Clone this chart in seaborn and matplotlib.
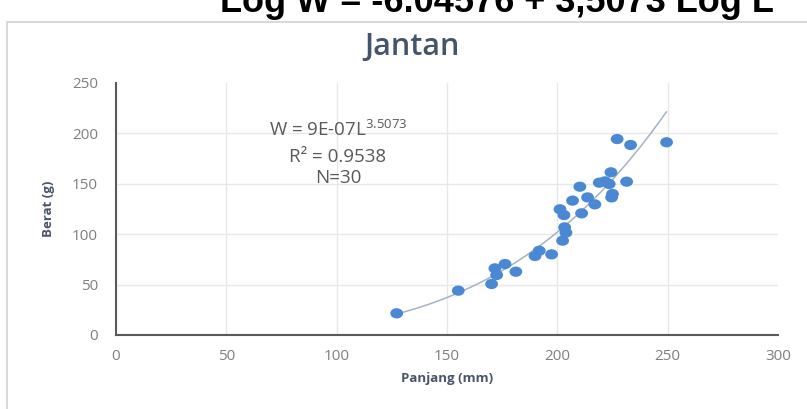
import numpy as np
import pandas as pd
import matplotlib
matplotlib.use("Agg")
import matplotlib.pyplot as plt
from matplotlib.path import Path
from matplotlib.transforms import Affine2D
from matplotlib.lines import Line2D
import seaborn as sns

# Length (mm) and weight (g) of the male specimens
panjang = [127.2, 155.1, 170.2, 171.7, 172.5, 176.3, 181.2, 189.9, 191.8, 197.4,
           202.4, 203.9, 203.3, 201.2, 203.0, 211.0, 206.9, 210.2, 213.7, 217.0,
           219.0, 221.6, 223.5, 224.3, 225.0, 224.6, 231.4, 227.1, 233.2, 249.5]
berat = [21.5, 44.0, 50.6, 66.1, 59.5, 70.4, 62.8, 78.4, 83.6, 80.0,
         93.6, 101.5, 106.8, 124.7, 119.0, 120.7, 133.3, 147.1, 136.5, 129.6,
         151.1, 152.4, 149.8, 161.4, 139.9, 136.5, 152.1, 194.4, 188.5, 191.2]

# Power trendline W = a * L^b
coef_label = "9E-07"
exponent = 3.5073
r_squared = "0.9538"
n_label = "N=30"
log_eq = "Log W = -6.04576 + 3,5073 Log L"

x_ticks = [0, 50, 100, 150, 200, 250, 300]
y_ticks = [0, 50, 100, 150, 200, 250]

sns.set_theme(style="white")
plt.rcParams["font.family"] = ["Open Sans", "DejaVu Sans"]
plt.rcParams["mathtext.fontset"] = "custom"
plt.rcParams["mathtext.rm"] = "Open Sans"
plt.rcParams["mathtext.it"] = "Open Sans:italic"
plt.rcParams["mathtext.bf"] = "Open Sans:bold"

df = pd.DataFrame({"Panjang (mm)": panjang, "Berat (g)": berat})

W_fig, H_fig = 807, 409
fig = plt.figure(figsize=(W_fig / 100, H_fig / 100), dpi=100)
fig.patch.set_facecolor("white")
ax = fig.add_axes([116 / W_fig, 74 / H_fig, 662 / W_fig, 252 / H_fig])

# trendline: exponent from the equation, coefficient fitted in log space
L = np.asarray(panjang)
Wt = np.asarray(berat)
a = np.exp(np.mean(np.log(Wt) - exponent * np.log(L)))
xs = np.linspace(L.min(), L.max(), 300)
sns.lineplot(x=xs, y=a * xs ** exponent, ax=ax, color="#a3b2c6", lw=1.1,
             zorder=2, legend=False)

# slightly wide oval markers
oval = Path.unit_circle().transformed(Affine2D().scale(1.0, 0.8))
sns.scatterplot(data=df, x="Panjang (mm)", y="Berat (g)", ax=ax, marker=oval,
                s=85, color="#4a88d4", edgecolor="none", linewidth=0,
                zorder=3, legend=False)

ax.set_xlim(0, 300)
ax.set_ylim(0, 250)
ax.set_xticks(x_ticks)
ax.set_yticks(y_ticks)
ax.grid(True, color="#e8e8e8", lw=1.0, zorder=0)
ax.set_axisbelow(True)
ax.xaxis.get_gridlines()[-1].set_visible(False)
ax.yaxis.get_gridlines()[-1].set_visible(False)

for side in ["top", "right"]:
    ax.spines[side].set_visible(False)
for side in ["left", "bottom"]:
    ax.spines[side].set_color("#5a5a5a")
    ax.spines[side].set_linewidth(1.5)

ax.tick_params(axis="both", length=0, labelsize=11, labelcolor="#7f7f7f")
ax.tick_params(axis="y", pad=13)
ax.tick_params(axis="x", pad=10)

ax.set_xlabel("Panjang (mm)", fontsize=9.5, weight="bold", color="#4a5468",
              labelpad=6)
ax.set_ylabel("Berat (g)", fontsize=9.5, weight="bold", color="#4a5468",
              labelpad=12)

# equation annotation
ax.text(100.6, 203, r"W = " + coef_label + r"L$^{" + str(exponent) + r"}$",
        ha="center", va="center", fontsize=13.5, color="#595959")
ax.text(100.6, 176.5, "R² = " + r_squared, ha="center", va="center",
        fontsize=13.5, color="#595959")
ax.text(100.6, 155.5, n_label, ha="center", va="center", fontsize=13.5,
        color="#595959")

fig.text(412 / W_fig, 1 - 55 / H_fig, "Jantan", ha="center", va="baseline",
         fontsize=22, weight="semibold", color="#44546a")

fig.text(497 / W_fig, 1 - 12 / H_fig, log_eq, ha="center", va="baseline",
         fontsize=26, weight="bold", color="black",
         family=["Liberation Sans", "DejaVu Sans"])

# chart-area frame
fig.add_artist(Line2D([7 / W_fig, 7 / W_fig], [0, 1 - 22 / H_fig],
                      transform=fig.transFigure, color="#d6d6d6", lw=1.3))
fig.add_artist(Line2D([7 / W_fig, 1], [1 - 22 / H_fig, 1 - 22 / H_fig],
                      transform=fig.transFigure, color="#d6d6d6", lw=1.3))

fig.savefig("out.png", dpi=100)
